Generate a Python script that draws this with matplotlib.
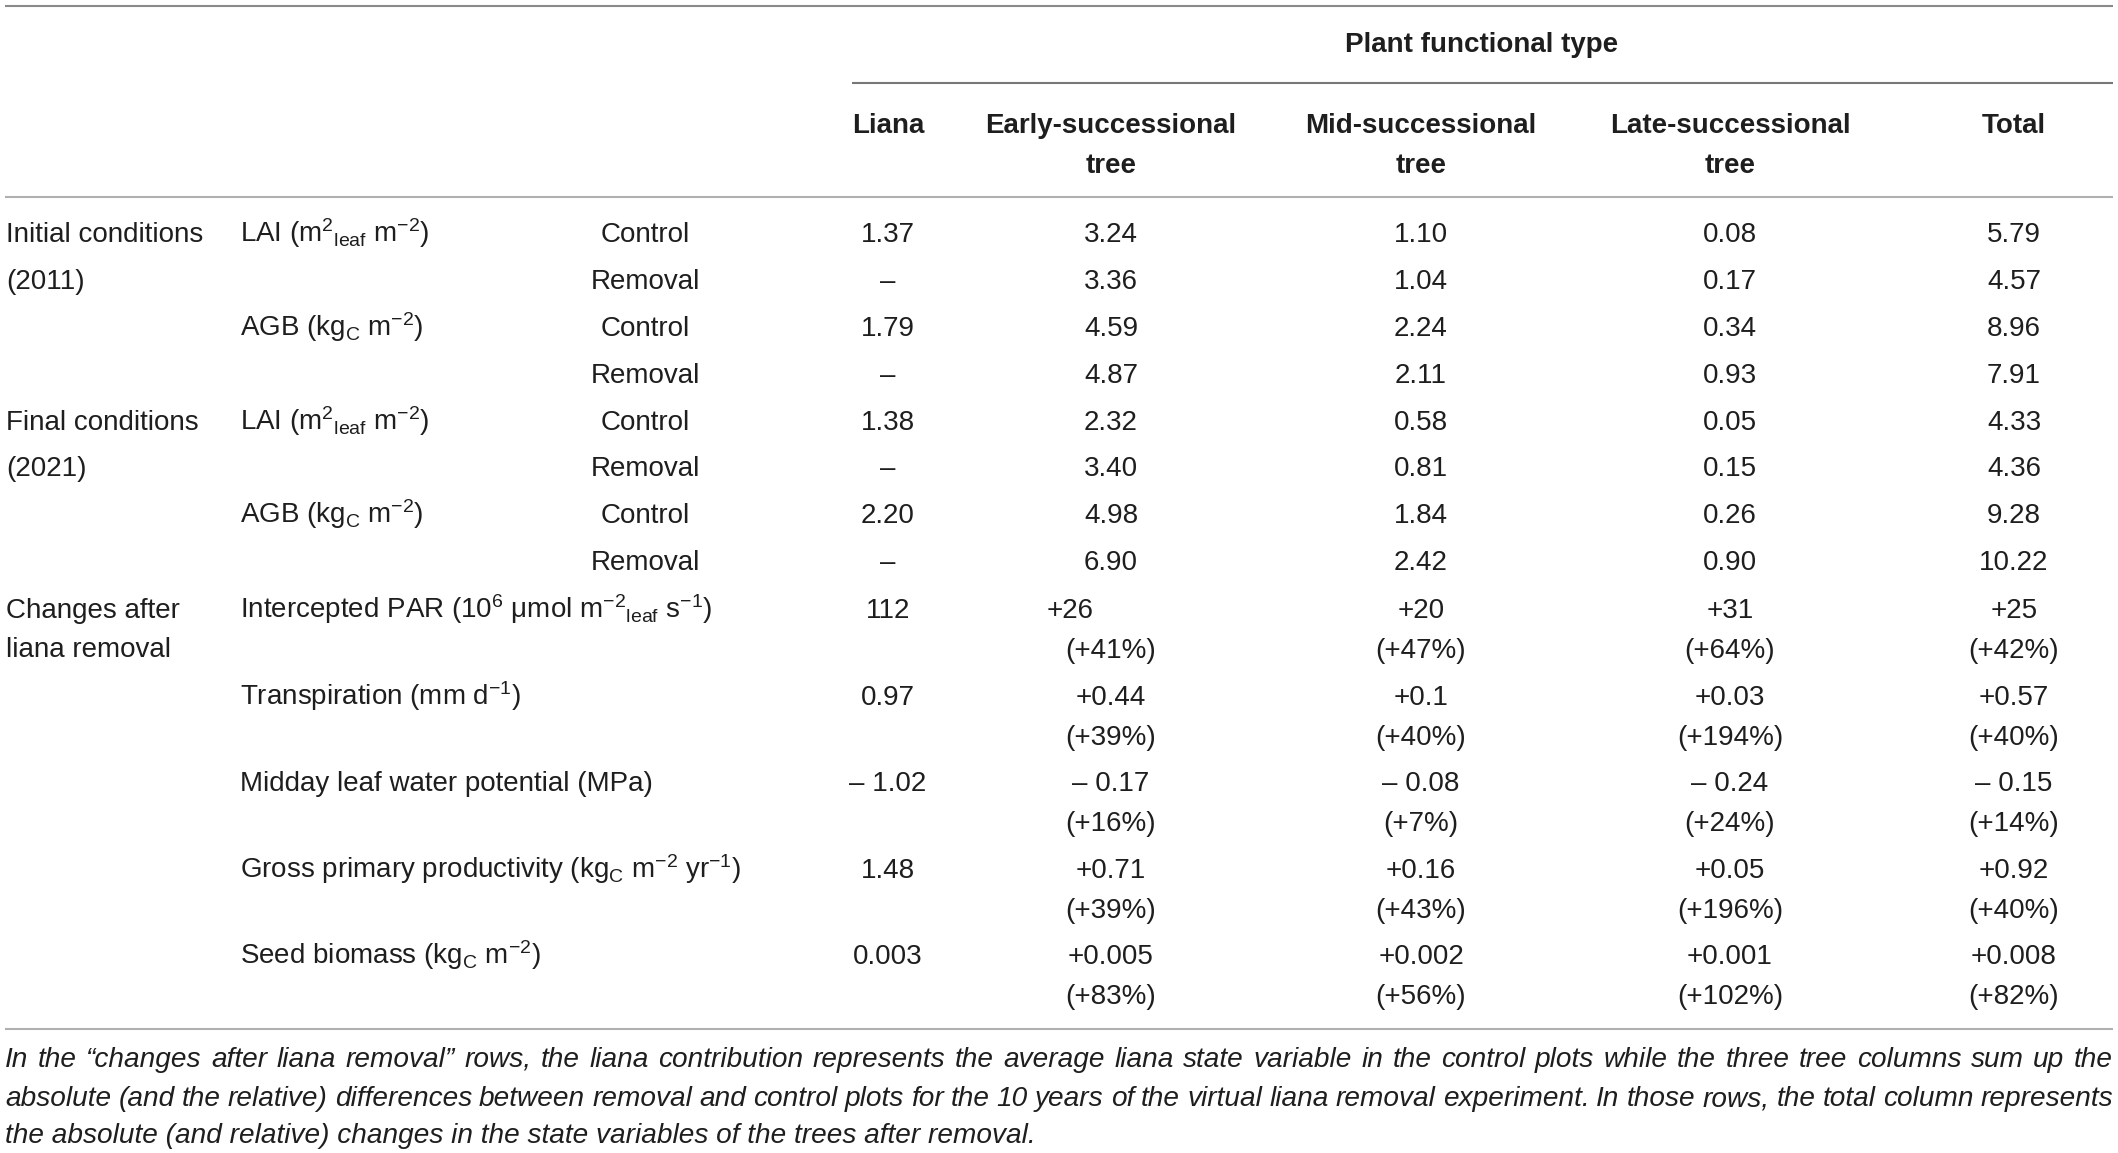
import matplotlib
matplotlib.use("Agg")
import matplotlib.pyplot as plt

plt.rcParams['font.family'] = ['Liberation Sans', 'DejaVu Sans']
plt.rcParams['mathtext.fontset'] = 'custom'
plt.rcParams['mathtext.rm'] = 'Liberation Sans'
plt.rcParams['mathtext.it'] = 'Liberation Sans:italic'
plt.rcParams['mathtext.bf'] = 'Liberation Sans:bold'

# ---------------- data ----------------
spanner = "Plant functional type"
col_headers = ["Liana", "Early-successional\ntree", "Mid-successional\ntree",
               "Late-successional\ntree", "Total"]

groups = ["Initial conditions\n(2011)", "Final conditions\n(2021)", "Changes after\nliana removal"]
cond_vars = [r"LAI (m$^{2}{}_{\rm leaf}$ m$^{-2}$)", r"AGB (kg$_{\rm C}$ m$^{-2}$)"]
treatments = ["Control", "Removal"]

# Initial conditions (2011): rows = LAI Control, LAI Removal, AGB Control, AGB Removal
init_liana = ["1.37", "–", "1.79", "–"]
init_early = [3.24, 3.36, 4.59, 4.87]
init_mid = [1.10, 1.04, 2.24, 2.11]
init_late = [0.08, 0.17, 0.34, 0.93]
init_total = [5.79, 4.57, 8.96, 7.91]

# Final conditions (2021)
final_liana = ["1.38", "–", "2.20", "–"]
final_early = [2.32, 3.40, 4.98, 6.90]
final_mid = [0.58, 0.81, 1.84, 2.42]
final_late = [0.05, 0.15, 0.26, 0.90]
final_total = [4.33, 4.36, 9.28, 10.22]

# Changes after liana removal
change_vars = [r"Intercepted PAR (10$^{6}$ μmol m$^{-2}{}_{\rm leaf}$ s$^{-1}$)",
               r"Transpiration (mm d$^{-1}$)",
               "Midday leaf water potential (MPa)",
               r"Gross primary productivity (kg$_{\rm C}$ m$^{-2}$ yr$^{-1}$)",
               r"Seed biomass (kg$_{\rm C}$ m$^{-2}$)"]
change_liana = ["112", "0.97", "– 1.02", "1.48", "0.003"]
change_early_abs = ["+26", "+0.44", "– 0.17", "+0.71", "+0.005"]
change_early_rel = ["+41%", "+39%", "+16%", "+39%", "+83%"]
change_mid_abs = ["+20", "+0.1", "– 0.08", "+0.16", "+0.002"]
change_mid_rel = ["+47%", "+40%", "+7%", "+43%", "+56%"]
change_late_abs = ["+31", "+0.03", "– 0.24", "+0.05", "+0.001"]
change_late_rel = ["+64%", "+194%", "+24%", "+196%", "+102%"]
change_total_abs = ["+25", "+0.57", "– 0.15", "+0.92", "+0.008"]
change_total_rel = ["+42%", "+40%", "+14%", "+40%", "+82%"]

caption_lines = [
    "In the \u201cchanges after liana removal\u201d rows, the liana contribution represents the average liana state variable in the control plots while the three tree columns sum up the",
    "absolute (and the relative) differences between removal and control plots for the 10 years of the virtual liana removal experiment. In those rows, the total column represents",
    "the absolute (and relative) changes in the state variables of the trees after removal.",
]

# ---------------- layout ----------------
W, H = 2118, 1153
fig = plt.figure(figsize=(W / 100, H / 100), dpi=100)
ax = fig.add_axes([0, 0, 1, 1])
ax.set_xlim(0, W)
ax.set_ylim(H, 0)
ax.axis('off')

FS = 20
TXT = '#1e1e1e'
x_group = 6
x_var = 240
x_treat = 645
x_cols = [888, 1111, 1421, 1730, 2014]
BASE = 10  # baseline offset from visual centre

def put(x, yc, s, ha='center', **kw):
    kw.setdefault('fontsize', FS)
    kw.setdefault('color', TXT)
    return ax.text(x, yc + BASE, s, ha=ha, va='baseline', **kw)

# rules
ax.plot([5, 2113], [6, 6], color='#8a8a8a', lw=1.5, solid_capstyle='butt')
ax.plot([852, 2113], [83, 83], color='#777777', lw=1.5, solid_capstyle='butt')
ax.plot([5, 2113], [197, 197], color='#b0b0b0', lw=1.5, solid_capstyle='butt')
ax.plot([5, 2113], [1029, 1029], color='#b0b0b0', lw=1.5, solid_capstyle='butt')

# header
put(1482, 42, spanner, fontweight='bold')
for x, h in zip(x_cols, col_headers):
    for i, line in enumerate(h.split('\n')):
        put(x, 123 + 40 * i, line, fontweight='bold')

# condition blocks
row_h = 46.9
cond_blocks = [
    (init_liana, init_early, init_mid, init_late, init_total),
    (final_liana, final_early, final_mid, final_late, final_total),
]
y0 = 232
for b, block in enumerate(cond_blocks):
    yb = y0 + b * 4 * row_h
    glines = groups[b].split('\n')
    for i, gl in enumerate(glines):
        put(x_group, yb + i * row_h, gl, ha='left')
    for r in range(4):
        y = yb + r * row_h
        if r % 2 == 0:
            put(x_var, y, cond_vars[r // 2], ha='left')
        put(x_treat, y, treatments[r % 2])
        liana, early, mid, late, total = block
        put(x_cols[0], y, liana[r])
        for ci, arr in enumerate([early, mid, late, total]):
            put(x_cols[ci + 1], y, f"{arr[r]:.2f}")

# change block
yc0 = 608
c_step = 86.6
c_line = 40
glines = groups[2].split('\n')
for i, gl in enumerate(glines):
    put(x_group, yc0 + i * 39, gl, ha='left')
quirk_shift = {(0, 1): -41}
abs_cols = [change_early_abs, change_mid_abs, change_late_abs, change_total_abs]
rel_cols = [change_early_rel, change_mid_rel, change_late_rel, change_total_rel]
for r in range(len(change_vars)):
    y = yc0 + r * c_step
    put(x_var, y, change_vars[r], ha='left')
    put(x_cols[0], y, change_liana[r])
    for ci in range(4):
        dx = quirk_shift.get((r, ci + 1), 0)
        put(x_cols[ci + 1] + dx, y, abs_cols[ci][r])
        put(x_cols[ci + 1], y + c_line, "(" + rel_cols[ci][r] + ")")

# caption (justified)
renderer = fig.canvas.get_renderer()
cap_fs = 19
probe = ax.text(0, 0, caption_lines[2], fontsize=cap_fs, style='italic')
w3 = probe.get_window_extent(renderer).width
probe.remove()
cap_fs = cap_fs * 1029.0 / w3
cap_y = [1058, 1097, 1134]
x_left, x_right = 5, 2113
for li, line in enumerate(caption_lines):
    yb = cap_y[li] + 9
    if li == len(caption_lines) - 1:
        ax.text(x_left, yb, line, fontsize=cap_fs, style='italic', color=TXT,
                ha='left', va='baseline')
        continue
    words = line.split(' ')
    arts = [ax.text(0, yb, w, fontsize=cap_fs, style='italic', color=TXT,
                    ha='left', va='baseline') for w in words]
    widths = [a.get_window_extent(renderer).width for a in arts]
    gap = (x_right - x_left - sum(widths)) / (len(words) - 1)
    x = x_left
    for a, wdt in zip(arts, widths):
        a.set_x(x)
        x += wdt + gap

fig.savefig("out.png", dpi=100)
